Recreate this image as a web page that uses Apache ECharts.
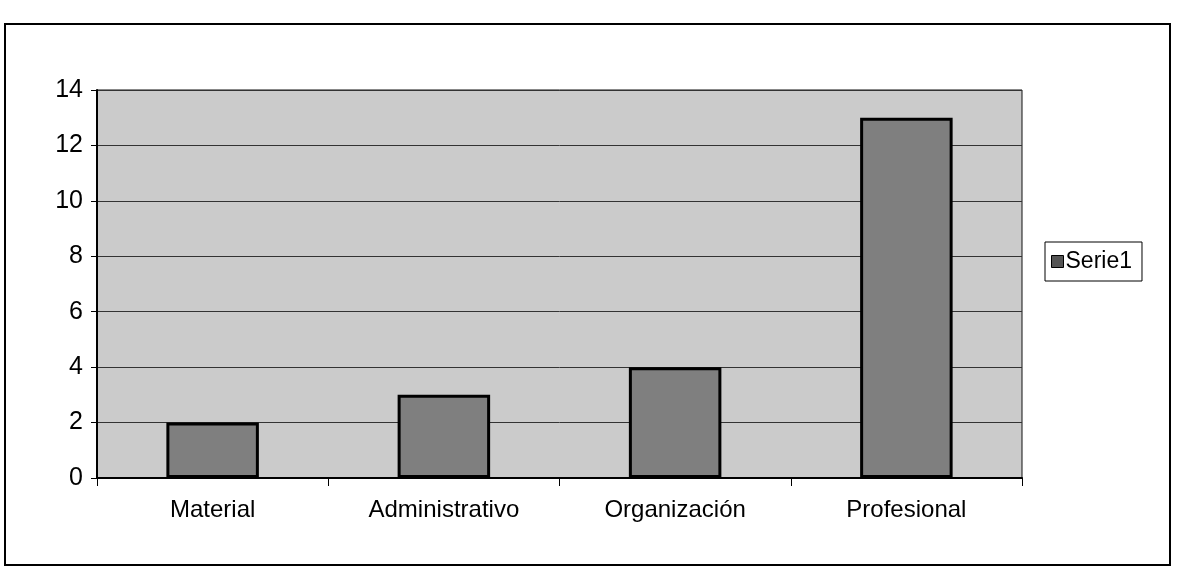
<!DOCTYPE html>
<html>
<head>
<meta charset="utf-8">
<script src="https://cdn.jsdelivr.net/npm/echarts@6/dist/echarts.min.js"></script>
<style>
  html, body { margin: 0; padding: 0; background: #fff; }
  #chart { width: 1177px; height: 581px; }
</style>
</head>
<body>
<div id="chart"></div>
<script>
// data
var categories = ["Material", "Administrativo", "Organización", "Profesional"];
var serie1 = [2, 3, 4, 13];
var seriesName = "Serie1";
var yMin = 0, yMax = 14, yStep = 2;

var myChart = echarts.init(document.getElementById("chart"));

var option = {
  animation: false,
  textStyle: { fontFamily: "Liberation Sans, Arial, sans-serif" },
  graphic: [
    {
      // outer chart frame
      type: "rect",
      shape: { x: 5, y: 24, width: 1165, height: 541 },
      style: { fill: "none", stroke: "#000", lineWidth: 2 },
      silent: true,
    },
  ],
  legend: {
    left: 1045,
    top: 242,
    orient: "vertical",
    data: [seriesName],
    backgroundColor: "#fff",
    borderColor: "#000",
    borderWidth: 1,
    padding: [8, 10, 8, 6],
    itemWidth: 12,
    itemHeight: 12,
    itemGap: 0,
    icon: "rect",
    itemStyle: { color: "#555", borderColor: "#000", borderWidth: 1 },
    textStyle: { fontSize: 23, color: "#000", padding: [0, 0, 0, -3] },
  },
  grid: {
    left: 97,
    right: 155,
    top: 90,
    bottom: 103,
    show: true,
    backgroundColor: "#cbcbcb",
    borderColor: "#111",
    borderWidth: 1,
  },
  xAxis: {
    type: "category",
    data: categories,
    axisLine: { show: true, lineStyle: { color: "#000", width: 2 } },
    axisTick: { show: true, inside: false, length: 8, lineStyle: { color: "#000", width: 1 } },
    axisLabel: { fontSize: 24, color: "#000", margin: 20 },
    splitLine: { show: false },
  },
  yAxis: {
    type: "value",
    min: yMin,
    max: yMax,
    interval: yStep,
    axisLine: { show: true, lineStyle: { color: "#000", width: 2 } },
    axisTick: { show: true, length: 6, lineStyle: { color: "#000" } },
    axisLabel: { fontSize: 25, color: "#000", margin: 14 },
    splitLine: { show: true, lineStyle: { color: "#333", width: 1 } },
  },
  series: [
    {
      name: seriesName,
      type: "bar",
      data: serie1,
      barWidth: "40%",
      itemStyle: {
        color: "#7f7f7f",
        borderColor: "#000",
        borderWidth: 3,
      },
    },
  ],
};

option && myChart.setOption(option);
</script>
</body>
</html>
